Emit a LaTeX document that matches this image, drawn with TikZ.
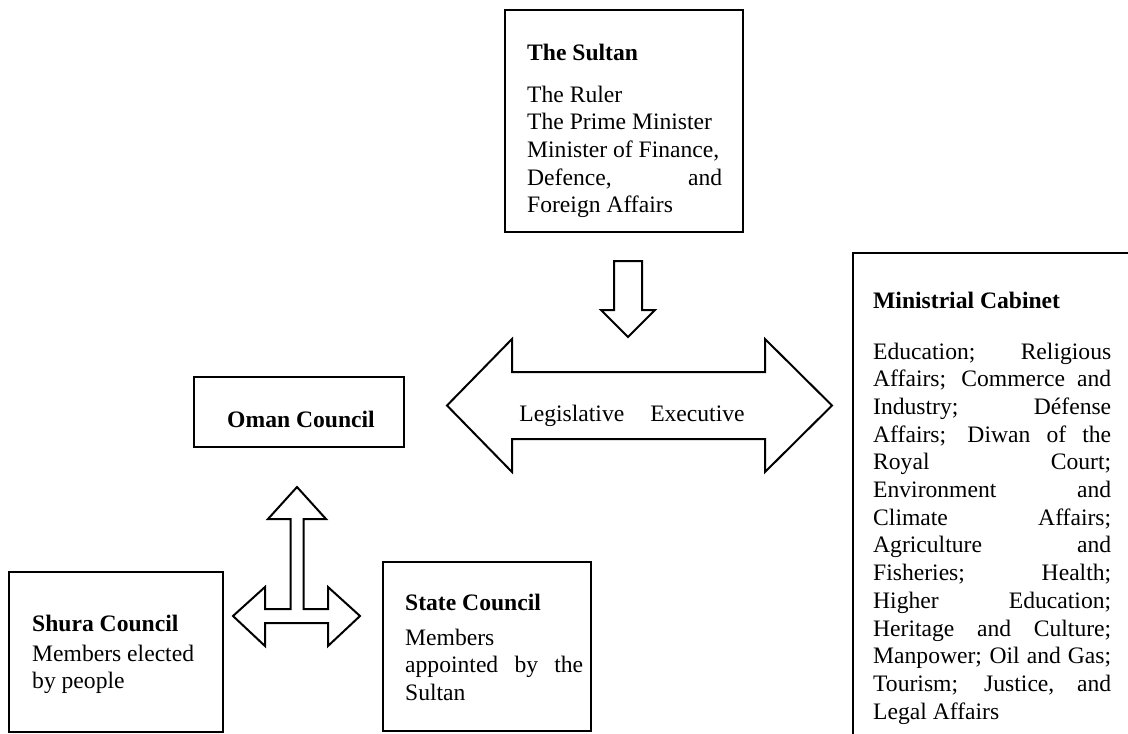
\documentclass[tikz,border=0pt]{standalone}
\usepackage{fontspec}
\setmainfont{Liberation Serif}
\usetikzlibrary{positioning}

% justified line of a given width
\newcommand{\jline}[2]{\makebox[#1][s]{\spaceskip=0pt\xspaceskip=0pt #2}}

\begin{document}
\begin{tikzpicture}[
    x=1pt, y=-1pt,
    panel/.style={draw, line width=2.4pt, rectangle, inner sep=0pt},
    txt/.style={anchor=base west, inner sep=0pt, align=flush left, font=\fontsize{23.6pt}{27.7pt}\selectfont},
    head/.style={txt, font=\fontsize{23.6pt}{27.7pt}\selectfont\bfseries},
    blockarrow/.style={draw, line width=2pt, fill=white, miter limit=20}
]
\path[use as bounding box, clip] (0,0) rectangle (1128,734);

% The Sultan
\node[panel, minimum width=238pt, minimum height=222pt] (sultan) at (624,121) {};
\node[head] (sultantitle) at (527,60) {The Sultan};
\node[txt, text width=210pt] (sultantext) at (527,102) {The Ruler\\
The Prime Minister\\
Minister of Finance,\\
\jline{195pt}{Defence, and}\\
Foreign Affairs};

% Oman Council
\node[panel, minimum width=210pt, minimum height=70pt] (oman) at (299,412) {};
\node[head, anchor=base] (omantitle) at (301,427) {Oman Council};

% Ministrial Cabinet (runs off the page)
\node[panel, minimum width=292pt, minimum height=500pt, anchor=north west] (cabinet) at (852,252) {};
\node[head] (cabinettitle) at (873,308) {Ministrial Cabinet};
\node[txt, text width=245pt] (cabinettext) at (873,359) {\jline{238pt}{Education; Religious}\\
\jline{238pt}{Affairs; Commerce and}\\
\jline{238pt}{Industry; Défense}\\
\jline{238pt}{Affairs; Diwan of the}\\
\jline{238pt}{Royal Court;}\\
\jline{238pt}{Environment and}\\
\jline{238pt}{Climate Affairs;}\\
\jline{238pt}{Agriculture and}\\
\jline{238pt}{Fisheries; Health;}\\
\jline{238pt}{Higher Education;}\\
\jline{238pt}{Heritage and Culture;}\\
\jline{238pt}{Manpower; Oil and Gas;}\\
\jline{238pt}{Tourism; Justice, and}\\
Legal Affairs};

% Shura Council
\node[panel, minimum width=214pt, minimum height=160pt] (shura) at (116,652) {};
\node[head] (shuratitle) at (32,631) {Shura Council};
\node[txt, text width=180pt] (shuratext) at (32,661) {Members elected\\
by people};

% State Council
\node[panel, minimum width=208pt, minimum height=169pt] (state) at (487,646.5) {};
\node[head] (statetitle) at (405,610) {State Council};
\node[txt, text width=185pt] (statetext) at (405,645) {Members\\
\jline{178pt}{appointed by the}\\
Sultan};

% Down arrow from the Sultan
\draw[blockarrow] (614,261) -- (642,261) -- (642,310) -- (655,310) -- (628,337)
    -- (601,310) -- (614,310) -- cycle;

% Legislative / Executive double arrow
\draw[blockarrow] (447,405.5) -- (512,339) -- (512,372) -- (765,372) -- (765,339)
    -- (832,405.5) -- (765,472) -- (765,439) -- (512,439) -- (512,472) -- cycle;
\node[txt, anchor=base] (legexe) at (632,421.5) {Legislative\hspace{26pt}Executive};

% Three-way arrow under Oman Council
\draw[blockarrow] (297,487) -- (326,519) -- (303.5,519) -- (303.5,609) -- (328,609)
    -- (328,587) -- (360,616) -- (328,646) -- (328,623) -- (265,623) -- (265,646)
    -- (233,616) -- (265,587) -- (265,609) -- (290.5,609) -- (290.5,519)
    -- (268,519) -- cycle;

\end{tikzpicture}
\end{document}
